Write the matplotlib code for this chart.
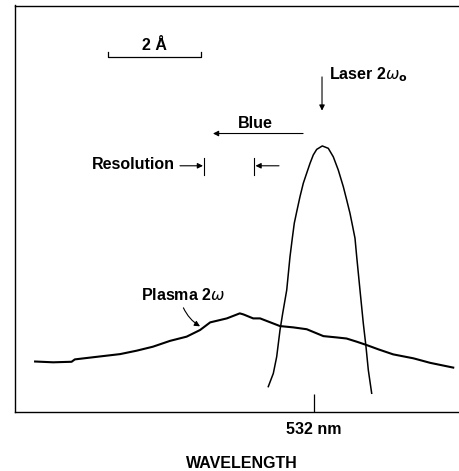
import matplotlib
matplotlib.use("Agg")
import matplotlib.pyplot as plt
import numpy as np

plt.rcParams['font.family'] = ['Liberation Sans', 'DejaVu Sans']
plt.rcParams['mathtext.fontset'] = 'dejavusans'

# Wavelength offset from 532 nm (Angstrom) and relative intensity
plasma_x = [-6.03, -5.64, -5.24, -5.17, -4.78, -4.19, -3.83, -3.48, -3.11, -2.75,
            -2.46, -2.24, -1.88, -1.60, -1.52, -1.31, -1.16, -0.73, -0.44, -0.15,
            0.21, 0.50, 0.71, 0.93, 1.15, 1.40, 1.72, 2.16, 2.52, 3.02]
plasma_y = [0.189, 0.186, 0.188, 0.197, 0.205, 0.217, 0.230, 0.245, 0.267, 0.283,
            0.308, 0.337, 0.352, 0.371, 0.367, 0.352, 0.352, 0.323, 0.318, 0.311,
            0.285, 0.280, 0.276, 0.264, 0.251, 0.235, 0.216, 0.201, 0.184, 0.166]

laser_x = [-0.983, -0.874, -0.801, -0.729, -0.671, -0.584, -0.513, -0.463, -0.420,
           -0.368, -0.297, -0.225, -0.152, -0.080, -0.009, 0.065, 0.186, 0.316,
           0.424, 0.532, 0.641, 0.714, 0.786, 0.844, 0.894, 0.931, 1.002, 1.074,
           1.132, 1.182, 1.255]
laser_y = [0.094, 0.144, 0.207, 0.308, 0.371, 0.459, 0.585, 0.655, 0.712,
           0.755, 0.812, 0.863, 0.901, 0.938, 0.970, 0.991, 1.004, 0.995,
           0.963, 0.913, 0.850, 0.800, 0.749, 0.699, 0.655, 0.585, 0.459, 0.333,
           0.245, 0.157, 0.069]

tick_pos = [0.0]
tick_labels = ['532 nm']

fig = plt.figure(figsize=(4.59, 4.71), dpi=100)
ax = fig.add_axes([15/459, 1-411.5/471, 1-15/459, (411.5-5.5)/471])

ax.plot(plasma_x, plasma_y, color='black', lw=1.5, solid_joinstyle='round')
ax.plot(laser_x, laser_y, color='black', lw=1.1, solid_joinstyle='round')

ax.set_xlim(-6.465, 3.145)
ax.set_ylim(0, 1.535)
ax.spines['right'].set_visible(False)
for s in ['left', 'top', 'bottom']:
    ax.spines[s].set_linewidth(1.0)
ax.set_yticks([])
ax.set_xticks(tick_pos)
ax.set_xticklabels(tick_labels, fontsize=11.5, fontweight='bold')
ax.tick_params(axis='x', direction='in', length=13, width=0.9, pad=7.5)
ax.set_xlabel('WAVELENGTH', fontsize=11.5, fontweight='bold')
ax.xaxis.set_label_coords(0.51, -0.11)

hw = dict(arrowstyle='-|>', color='black', lw=0.8, mutation_scale=8, shrinkA=0, shrinkB=0)

# 2 A scale bar
ax.plot([-4.446, -4.446, -2.446, -2.446], [1.360, 1.341, 1.341, 1.360], color='black', lw=0.9)
ax.text(-3.45, 1.385, '2 Å', ha='center', va='center', fontsize=11.5, fontweight='bold')

# Laser arrow
ax.annotate('', xy=(0.18, 1.1375), xytext=(0.18, 1.265), arrowprops=hw)
ax.text(0.33, 1.272, r'Laser 2$\omega_\mathbf{o}$', ha='left', va='center', fontsize=11.5, fontweight='bold')

# Blue arrow
ax.annotate('', xy=(-2.18, 1.051), xytext=(-0.23, 1.051), arrowprops=hw)
ax.text(-1.27, 1.09, 'Blue', ha='center', va='center', fontsize=11.5, fontweight='bold')

# Resolution marker
ax.plot([-2.368, -2.368], [0.894, 0.958], color='black', lw=0.8)
ax.plot([-1.286, -1.286], [0.894, 0.958], color='black', lw=0.8)
ax.annotate('', xy=(-2.396, 0.929), xytext=(-2.894, 0.929), arrowprops=hw)
ax.annotate('', xy=(-1.26, 0.929), xytext=(-0.751, 0.929), arrowprops=hw)
ax.text(-3.0, 0.932, 'Resolution', ha='right', va='center', fontsize=11.5, fontweight='bold')

# Plasma label
ax.text(-2.83, 0.44, r'Plasma 2$\omega$', ha='center', va='center', fontsize=11.5, fontweight='bold')
ax.annotate('', xy=(-2.46, 0.322), xytext=(-2.82, 0.392),
            arrowprops=dict(hw, connectionstyle='arc3,rad=0.15'))

fig.savefig('out.png', dpi=100)
